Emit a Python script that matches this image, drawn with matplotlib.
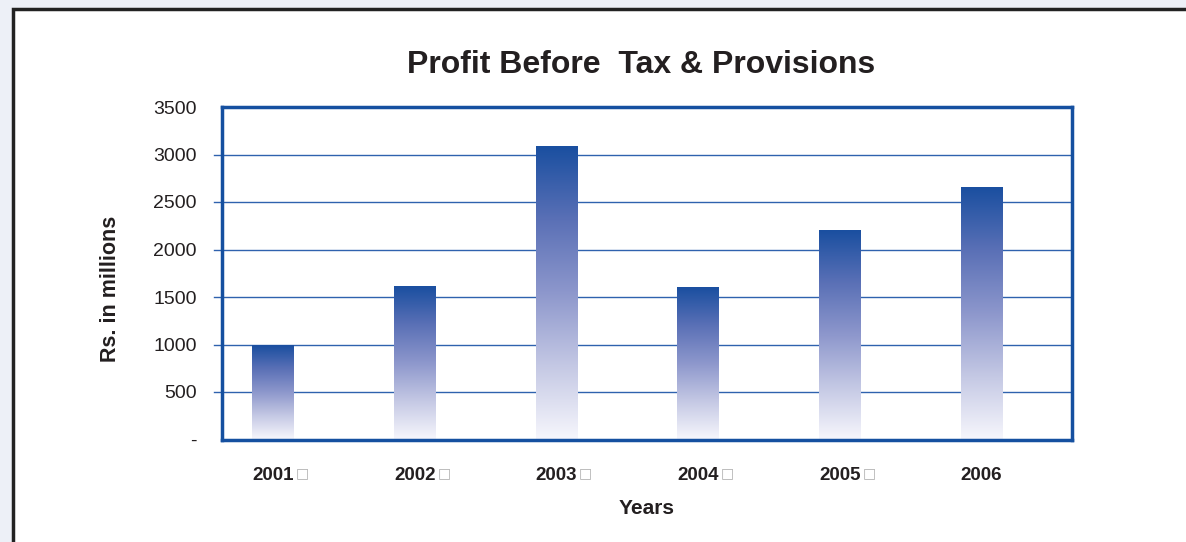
import matplotlib
matplotlib.use("Agg")
import matplotlib.pyplot as plt
from matplotlib.colors import LinearSegmentedColormap
from matplotlib.patches import Rectangle
import numpy as np

# Data
years = ["2001", "2002", "2003", "2004", "2005", "2006"]
profit = [980, 1605, 3075, 1600, 2200, 2650]
yticks = [0, 500, 1000, 1500, 2000, 2500, 3000, 3500]
ytick_labels = ["-", "500", "1000", "1500", "2000", "2500", "3000", "3500"]

plt.rcParams["font.family"] = ["Liberation Sans", "DejaVu Sans"]
text_col = "#231f20"
blue = "#1550a0"

fig = plt.figure(figsize=(11.86, 5.42), dpi=100)
fig.patch.set_facecolor("#edf0f7")

# white panel with dark border (runs off the right and bottom edges)
W, H = 1186, 542
panel = Rectangle((13 / W, -0.1), 1.2, 1 - 9 / H + 0.1, transform=fig.transFigure,
                  facecolor="white", edgecolor="#222222", linewidth=2.5, zorder=-10)
fig.patches.append(panel)

ax = fig.add_axes([222 / W, 1 - 439.5 / H, 850 / W, 332.5 / H])
ax.set_zorder(1)
ax.set_facecolor("none")

# gradient: near white at the base, dark blue at the top of each bar
cmap = LinearSegmentedColormap.from_list(
    "bar", ["#f6f6fc", "#c4c8e4", "#8d97cc", "#5a70b6", "#1a4fa0"])
grad = np.linspace(0, 1, 256).reshape(-1, 1)
bw = 0.29
x = np.arange(len(years))
for xi, v in zip(x, profit):
    ax.imshow(grad, cmap=cmap, origin="lower", aspect="auto",
              extent=[xi - bw / 2, xi + bw / 2, 0, v], zorder=3, interpolation="bilinear")

# bars sit a bit left of the slot centres in the original
ax.set_xlim(-0.36, len(years) - 0.36)
ax.set_ylim(0, 3500)

# grid lines, poking out a little to the left of the frame
for y in yticks[1:-1]:
    ax.axhline(y, xmin=-8 / 850, xmax=1, color="#2f62ae", lw=1.0, zorder=1, clip_on=False)

for s in ax.spines.values():
    s.set_color(blue)
    s.set_linewidth(2.5)
    s.set_zorder(5)

ax.set_yticks(yticks)
ax.set_yticklabels(ytick_labels, fontsize=14, color=text_col)
ax.tick_params(axis="y", length=0, pad=18)
ax.set_xticks(x)
ax.set_xticklabels(years, fontsize=13.5, fontweight="bold", color=text_col)
ax.tick_params(axis="x", length=0, pad=19.5)

# small gray boxes trailing the first five year labels
for xi in x[:-1]:
    ax.annotate("\u25a1", xy=(xi, 0), xycoords="data", xytext=(21, -24.5),
                textcoords="offset points", ha="center", va="center",
                fontsize=10, color="#b0b0b0", family="DejaVu Sans", annotation_clip=False)

ax.set_xlabel("Years", fontsize=15, fontweight="bold", color=text_col, labelpad=11)

fig.text(110 / W, 1 - 289 / H, "Rs. in millions", rotation=90, ha="center", va="center",
         fontsize=15.5, fontweight="bold", color=text_col)

fig.text(641 / W, 1 - 65 / H, "Profit Before  Tax & Provisions", ha="center", va="center",
         fontsize=23, fontweight="bold", color=text_col)

fig.savefig("out.png", dpi=100, facecolor=fig.get_facecolor())
